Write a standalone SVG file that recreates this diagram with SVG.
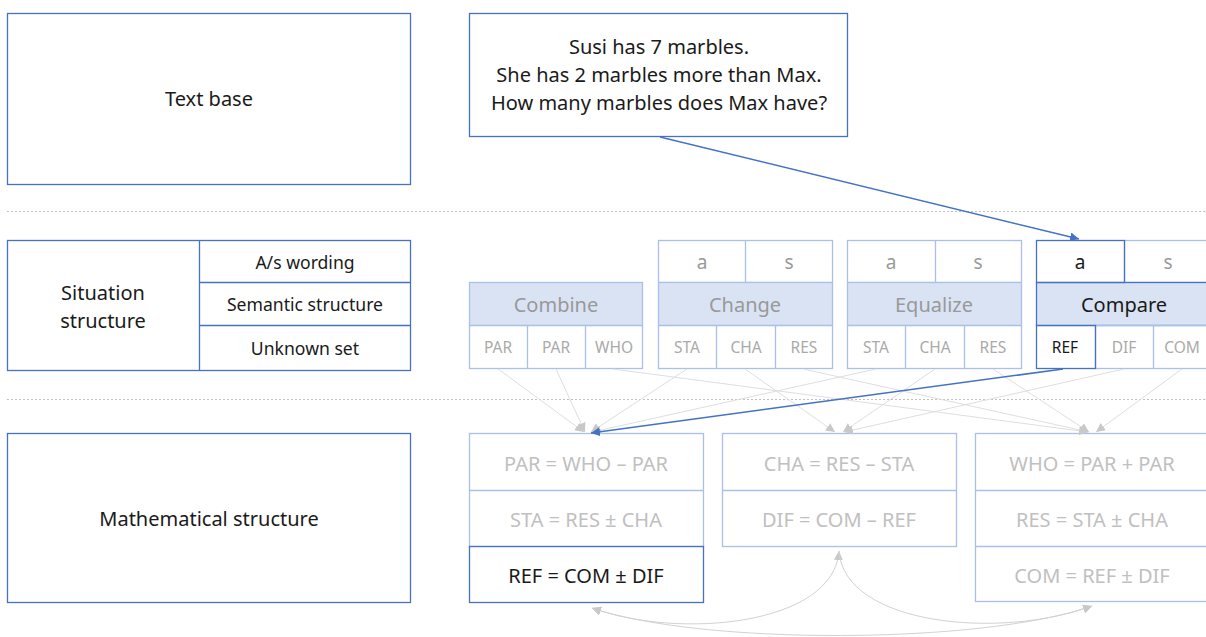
<svg xmlns="http://www.w3.org/2000/svg" width="1206" height="637" viewBox="0 0 1206 637">
<style>
text{font-family:"Noto Sans","Open Sans","Liberation Sans",sans-serif;text-anchor:middle;dominant-baseline:central}
.dk{fill:none;stroke:#4472C4;stroke-width:1.3}
.lt{fill:none;stroke:#A9C1EA;stroke-width:1.3}
.hd{fill:#DAE3F3;stroke:#A9C1EA;stroke-width:1.3}
.hdd{fill:#DAE3F3;stroke:#4472C4;stroke-width:1.3}
.t18{font-size:20px;fill:#1a1a1a}
.t16{font-size:17.6px;fill:#1a1a1a}
.hg{font-size:20px;fill:#999}
.hb{font-size:20px;fill:#1a1a1a}
.as{font-size:19px;fill:#999}
.ab{font-size:19px;fill:#1a1a1a}
.cg{font-size:15.5px;fill:#AAAAAA}
.cb{font-size:15.5px;fill:#1a1a1a}
.mg{font-size:20px;fill:#C0C0C0}
.mb{font-size:20px;fill:#1a1a1a}
.sep{stroke:#BFBFBF;stroke-width:1;stroke-dasharray:2 2}
.gl{fill:none;stroke:#DEDEDE;stroke-width:1}
.gc{fill:none;stroke:#D2D2D2;stroke-width:1}
.bl{fill:none;stroke:#4472C4;stroke-width:1.5}
</style>
<defs>
<marker id="ag" viewBox="0 0 10 10" refX="10" refY="5" markerWidth="9" markerHeight="9" markerUnits="userSpaceOnUse" orient="auto-start-reverse"><path d="M0,0 L10,5 L0,10 z" fill="#C8C8C8"/></marker>
<marker id="ab" viewBox="0 0 10 10" refX="10" refY="5" markerWidth="9" markerHeight="9" markerUnits="userSpaceOnUse" orient="auto"><path d="M0,0 L10,5 L0,10 z" fill="#4472C4"/></marker>
</defs>
<rect width="1206" height="637" fill="#fff"/>
<line class="sep" x1="7" y1="211.5" x2="1206" y2="211.5"/>
<line class="sep" x1="7" y1="399.5" x2="1206" y2="399.5"/>

<g id="textbase">
<rect class="dk" x="7.5" y="13.5" width="403" height="171"/>
<text class="t18" x="209" y="98">Text base</text>
</g>
<g id="problem">
<rect class="dk" x="469.5" y="13.5" width="378" height="123"/>
<text class="t18" x="659" y="46">Susi has 7 marbles.</text>
<text class="t18" x="659" y="74">She has 2 marbles more than Max.</text>
<text class="t18" x="659" y="102">How many marbles does Max have?</text>
</g>
<g id="situation">
<rect class="dk" x="7.5" y="240.5" width="403" height="130"/>
<line class="dk" x1="199.5" y1="240.5" x2="199.5" y2="370.5"/>
<line class="dk" x1="199.5" y1="282.5" x2="410.5" y2="282.5"/>
<line class="dk" x1="199.5" y1="325.5" x2="410.5" y2="325.5"/>
<text class="t18" x="103" y="292">Situation</text>
<text class="t18" x="103" y="320">structure</text>
<text class="t16" x="305" y="262">A/s wording</text>
<text class="t16" x="305" y="304">Semantic structure</text>
<text class="t16" x="305" y="348">Unknown set</text>
</g>
<g id="mathematical">
<rect class="dk" x="7.5" y="433.5" width="403" height="169"/>
<text class="t18" x="209" y="518">Mathematical structure</text>
</g>

<g id="combine">
<rect class="hd" x="469.5" y="282.5" width="173" height="43"/>
<rect class="lt" x="469.5" y="325.5" width="173" height="43"/>
<line class="lt" x1="527.5" y1="325.5" x2="527.5" y2="368.5"/>
<line class="lt" x1="585.5" y1="325.5" x2="585.5" y2="368.5"/>
<text class="hg" x="556" y="304">Combine</text>
<text class="cg" x="498" y="347">PAR</text>
<text class="cg" x="556" y="347">PAR</text>
<text class="cg" x="614" y="347">WHO</text>
</g>
<g id="change">
<rect class="lt" x="658.5" y="240.5" width="174" height="42"/>
<line class="lt" x1="745.5" y1="240.5" x2="745.5" y2="282.5"/>
<rect class="hd" x="658.5" y="282.5" width="174" height="43"/>
<rect class="lt" x="658.5" y="325.5" width="174" height="43"/>
<line class="lt" x1="716.5" y1="325.5" x2="716.5" y2="368.5"/>
<line class="lt" x1="775.5" y1="325.5" x2="775.5" y2="368.5"/>
<text class="as" x="702" y="262">a</text>
<text class="as" x="789" y="262">s</text>
<text class="hg" x="745" y="304">Change</text>
<text class="cg" x="687" y="347">STA</text>
<text class="cg" x="746" y="347">CHA</text>
<text class="cg" x="804" y="347">RES</text>
</g>
<g id="equalize">
<rect class="lt" x="847.5" y="240.5" width="174" height="42"/>
<line class="lt" x1="935.5" y1="240.5" x2="935.5" y2="282.5"/>
<rect class="hd" x="847.5" y="282.5" width="174" height="43"/>
<rect class="lt" x="847.5" y="325.5" width="174" height="43"/>
<line class="lt" x1="905.5" y1="325.5" x2="905.5" y2="368.5"/>
<line class="lt" x1="964.5" y1="325.5" x2="964.5" y2="368.5"/>
<text class="as" x="891" y="262">a</text>
<text class="as" x="978" y="262">s</text>
<text class="hg" x="934" y="304">Equalize</text>
<text class="cg" x="876" y="347">STA</text>
<text class="cg" x="935" y="347">CHA</text>
<text class="cg" x="993" y="347">RES</text>
</g>
<g id="compare">
<rect class="lt" x="1124.5" y="240.5" width="90" height="42"/>
<rect class="hdd" x="1036.5" y="282.5" width="178" height="43"/>
<rect class="lt" x="1095.5" y="325.5" width="119" height="43"/>
<line class="lt" x1="1153.5" y1="325.5" x2="1153.5" y2="368.5"/>
<rect class="dk" x="1036.5" y="240.5" width="88" height="42"/>
<rect class="dk" x="1036.5" y="325.5" width="59" height="43"/>
<text class="ab" x="1080" y="262">a</text>
<text class="as" x="1168" y="262">s</text>
<text class="hb" x="1124" y="304">Compare</text>
<text class="cb" x="1065" y="347">REF</text>
<text class="cg" x="1124" y="347">DIF</text>
<text class="cg" x="1182" y="347">COM</text>
</g>

<g id="eq1">
<rect class="lt" x="469.5" y="433.5" width="234" height="113"/>
<line class="lt" x1="469.5" y1="490.5" x2="703.5" y2="490.5"/>
<rect class="dk" x="469.5" y="546.5" width="234" height="56"/>
<text class="mg" x="586" y="463">PAR = WHO – PAR</text>
<text class="mg" x="586" y="519">STA = RES ± CHA</text>
<text class="mb" x="586" y="575">REF = COM ± DIF</text>
</g>
<g id="eq2">
<rect class="lt" x="722.5" y="433.5" width="234" height="113"/>
<line class="lt" x1="722.5" y1="490.5" x2="956.5" y2="490.5"/>
<text class="mg" x="839" y="463">CHA = RES – STA</text>
<text class="mg" x="839" y="519">DIF = COM – REF</text>
</g>
<g id="eq3">
<rect class="lt" x="975.5" y="433.5" width="240" height="168"/>
<line class="lt" x1="975.5" y1="490.5" x2="1215.5" y2="490.5"/>
<line class="lt" x1="975.5" y1="546.5" x2="1215.5" y2="546.5"/>
<text class="mg" x="1092" y="463">WHO = PAR + PAR</text>
<text class="mg" x="1092" y="519">RES = STA ± CHA</text>
<text class="mg" x="1092" y="575">COM = REF ± DIF</text>
</g>

<g id="connectors">
<line class="gl" x1="498" y1="369" x2="584" y2="432" marker-end="url(#ag)"/>
<line class="gl" x1="556" y1="369" x2="585" y2="432" marker-end="url(#ag)"/>
<line class="gl" x1="613" y1="369" x2="1088" y2="432" marker-end="url(#ag)"/>
<line class="gl" x1="687" y1="369" x2="591" y2="432" marker-end="url(#ag)"/>
<line class="gl" x1="745" y1="369" x2="835" y2="432" marker-end="url(#ag)"/>
<line class="gl" x1="803" y1="369" x2="1089" y2="432" marker-end="url(#ag)"/>
<line class="gl" x1="876" y1="369" x2="592" y2="432" marker-end="url(#ag)"/>
<line class="gl" x1="935" y1="369" x2="843" y2="432" marker-end="url(#ag)"/>
<line class="gl" x1="993" y1="369" x2="1089" y2="432" marker-end="url(#ag)"/>
<line class="gl" x1="1124" y1="369" x2="844" y2="432" marker-end="url(#ag)"/>
<line class="gl" x1="1182" y1="369" x2="1096" y2="432" marker-end="url(#ag)"/>
<path class="gc" d="M839,551 C834,625 680,640 592,608" marker-start="url(#ag)" marker-end="url(#ag)"/>
<path class="gc" d="M839,551 C844,625 1000,640 1092,606" marker-end="url(#ag)"/>
<path class="gc" d="M592,608 C700,645 980,645 1092,606" marker-start="url(#ag)" marker-end="url(#ag)"/>
<line class="bl" x1="660" y1="137" x2="1079" y2="239" marker-end="url(#ab)"/>
<line class="bl" x1="1063" y1="369" x2="591" y2="433" marker-end="url(#ab)"/>
</g>
</svg>
